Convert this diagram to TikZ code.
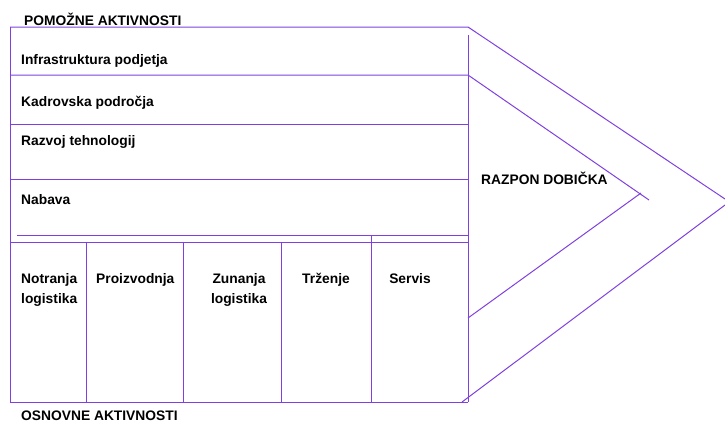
\documentclass[tikz,border=0pt]{standalone}
\usepackage{fontspec}
\setmainfont{Liberation Sans}
\usepackage{xcolor}
\usepackage{tikz}
\usetikzlibrary{positioning}
\definecolor{vchain}{HTML}{8040E0}

\tikzset{
  lbl/.style={font=\fontsize{13.8}{20}\selectfont\bfseries, text=black, inner sep=0pt},
  chainline/.style={draw=vchain, line width=1pt}
}

\begin{document}
\begin{tikzpicture}[x=1pt, y=-1pt]
\useasboundingbox (0,0) rectangle (725,423);
% outer frame and arrow tip
\draw[chainline] (10,27) -- (468,27) -- (725,199);
\draw[chainline] (725,205) -- (462,402);
\draw[chainline] (10,27) -- (10,402) -- (468,402);
\draw[chainline] (468,35) -- (468,402);
% inner margin wedge
\draw[chainline] (10,75) -- (468,75) -- (649,200);
\draw[chainline] (641,193) -- (468,318);
% support rows
\draw[chainline] (10,124) -- (468,124);
\draw[chainline] (10,179) -- (468,179);
\draw[chainline] (17,235) -- (468,235);
\draw[chainline] (10,242) -- (468,242);
% primary columns
\draw[chainline] (86,242) -- (86,402);
\draw[chainline] (183,242) -- (183,402);
\draw[chainline] (281,242) -- (281,402);
\draw[chainline] (371,235) -- (371,402);

\node[lbl, anchor=base west] (pomozne) at (24,25) {POMOŽNE AKTIVNOSTI};
\node[lbl, anchor=base west] (infra) at (21,64) {Infrastruktura podjetja};
\node[lbl, anchor=base west] (kadri) at (21,106) {Kadrovska področja};
\node[lbl, anchor=base west] (razvoj) at (21,145) {Razvoj tehnologij};
\node[lbl, anchor=base west] (nabava) at (21,204) {Nabava};
\node[lbl, anchor=north west, align=left] (notranja) at (21,273) {Notranja\\logistika};
\node[lbl, anchor=north west] (proizv) at (96,273) {Proizvodnja};
\node[lbl, anchor=north, align=center] (zunanja) at (239,273) {Zunanja\\logistika};
\node[lbl, anchor=north] (trzenje) at (326,273) {Trženje};
\node[lbl, anchor=north] (servis) at (410,273) {Servis};
\node[lbl, anchor=base west] (razpon) at (481,184) {RAZPON DOBIČKA};
\node[lbl, anchor=base west] (osnovne) at (21,420.5) {OSNOVNE AKTIVNOSTI};
\end{tikzpicture}
\end{document}
